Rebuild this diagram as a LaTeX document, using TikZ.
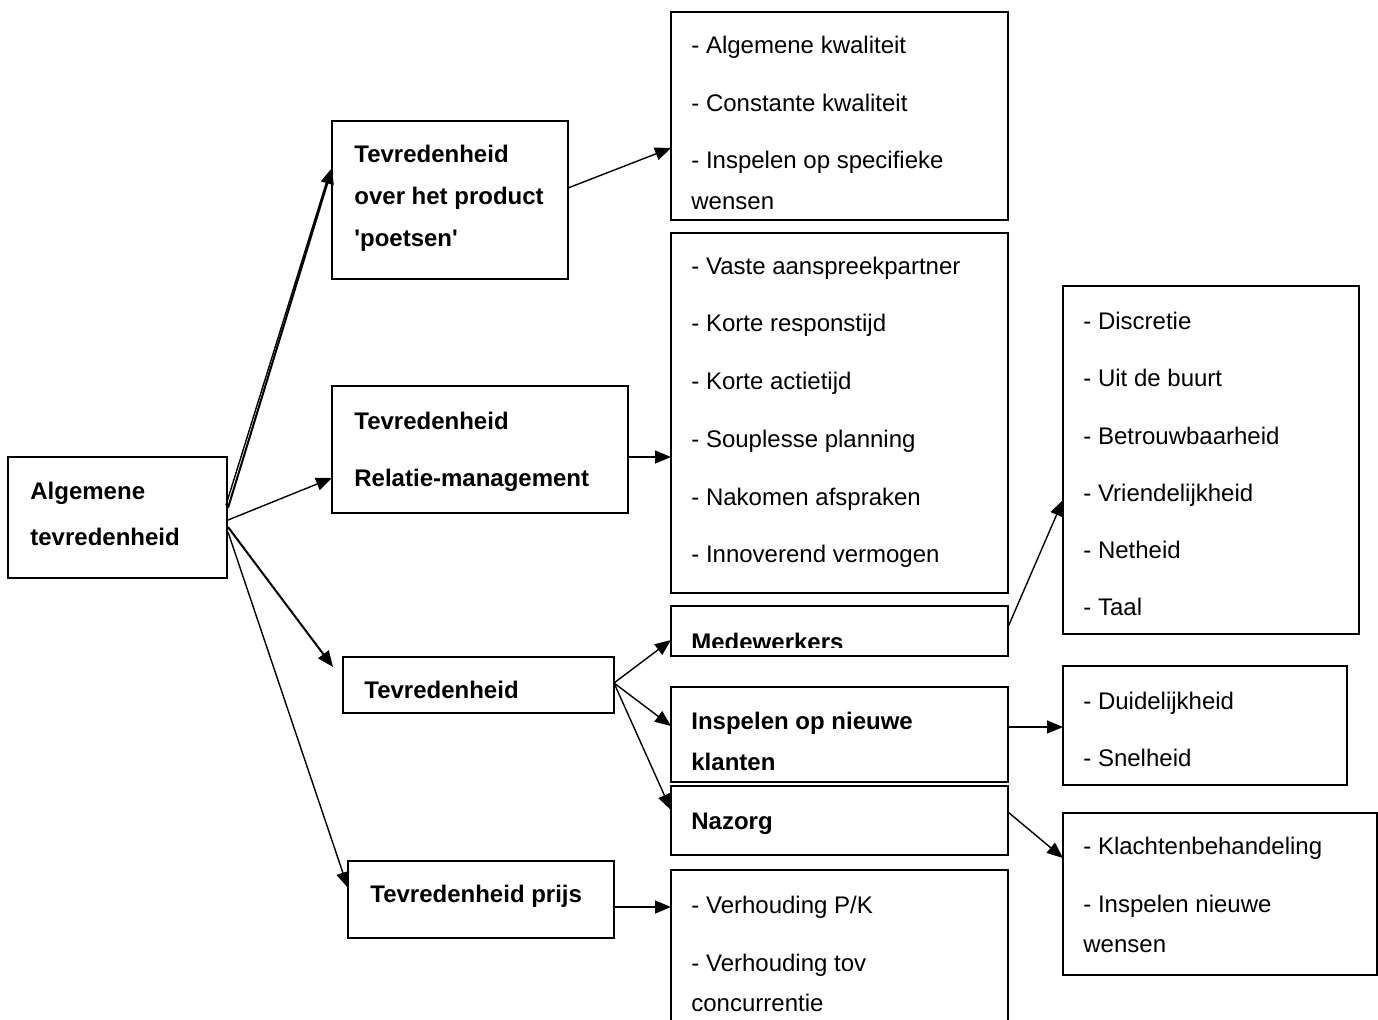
\documentclass[tikz,border=0pt]{standalone}
\usepackage{fontspec}
\setmainfont{Liberation Sans}[Ligatures=TeXOff]
\usetikzlibrary{arrows.meta}
\begin{document}
\begin{tikzpicture}[x=0.5pt,y=-0.5pt,
  box/.style={draw,line width=1pt},
  txt/.style={anchor=base west,inner sep=0pt,font=\fontsize{12}{14}\selectfont},
  btxt/.style={txt,font=\fontsize{12}{14}\selectfont\bfseries},
  arr/.style={line width=0.7pt,-{Triangle[length=8pt,width=6.5pt]}},
  ln/.style={line width=0.7pt}]
\useasboundingbox (0,0) rectangle (1378,1019);
% boxes
\draw[box] (8,457) rectangle (227,578);
\draw[box] (332,121) rectangle (568,279);
\draw[box] (332,386) rectangle (628,513);
\draw[box] (343,657) rectangle (614,713);
\draw[box] (348,861) rectangle (614,938);
\draw[box] (671,12) rectangle (1008,220);
\draw[box] (671,233) rectangle (1008,593);
\draw[box] (671,606) rectangle (1008,656);
\draw[box] (671,687) rectangle (1008,782);
\draw[box] (671,786) rectangle (1008,855);
\draw[box] (671,1025) -- (671,870) -- (1008,870) -- (1008,1025);
\draw[box] (1063,286) rectangle (1359,634);
\draw[box] (1063,666) rectangle (1347,785);
\draw[box] (1063,813) rectangle (1377,975);
% anchors
\coordinate (a1) at (228,508);
\coordinate (a0) at (226,505);
\coordinate (p0) at (330,171);
\coordinate (a2) at (228,520);
\coordinate (a3) at (228,527);
\coordinate (a4) at (228,532);
\coordinate (p1) at (332,168);
\coordinate (r1) at (332,478);
\coordinate (t1) at (333,667);
\coordinate (z1) at (348,888);
\coordinate (po) at (568,188);
\coordinate (l1) at (671,148);
\coordinate (ro) at (628,457);
\coordinate (l2) at (671,457);
\coordinate (to) at (614,683);
\coordinate (m1) at (671,640);
\coordinate (i1) at (671,726);
\coordinate (n1) at (671,810);
\coordinate (zo) at (614,907);
\coordinate (l4) at (671,907);
\coordinate (mo) at (1008,627);
\coordinate (d1) at (1063,500);
\coordinate (io) at (1008,727);
\coordinate (d2) at (1063,727);
\coordinate (no) at (1008,812);
\coordinate (d3) at (1063,858);
% arrows
\draw[arr,line width=1pt] (a1) -- (p1);
\draw[ln] (a0) -- (p0);
\draw[arr] (a2) -- (r1);
\draw[arr,line width=1pt] (a3) -- (t1);
\draw[arr] (a4) -- (z1);
\draw[arr] (po) -- (l1);
\draw[arr] (ro) -- (l2);
\draw[arr] (to) -- (m1);
\draw[arr] (to) -- (i1);
\draw[arr] (to) -- (n1);
\draw[arr] (zo) -- (l4);
\draw[arr] (mo) -- (d1);
\draw[arr] (io) -- (d2);
\draw[arr] (no) -- (d3);
% texts
\node[btxt] (ta) at (30,499) {Algemene};
\node[btxt] (tb) at (30,545) {tevredenheid};
\node[btxt] (tp1) at (354,162) {Tevredenheid};
\node[btxt] (tp2) at (354,204) {over het product};
\node[btxt] (tp3) at (354,246) {'poetsen'};
\node[btxt] (tr1) at (354,429) {Tevredenheid};
\node[btxt] (tr2) at (354,486) {Relatie-management};
\node[btxt] (tt) at (364,698) {Tevredenheid};
\node[btxt] (tz) at (370,902) {Tevredenheid prijs};
\node[txt] (q1) at (691,53) {- Algemene kwaliteit};
\node[txt] (q2) at (691,111) {- Constante kwaliteit};
\node[txt] (q3) at (691,168) {- Inspelen op specifieke};
\node[txt] (q4) at (691,209) {wensen};
\node[txt] (s1) at (691,274) {- Vaste aanspreekpartner};
\node[txt] (s2) at (691,331) {- Korte responstijd};
\node[txt] (s3) at (691,389) {- Korte actietijd};
\node[txt] (s4) at (691,447) {- Souplesse planning};
\node[txt] (s5) at (691,505) {- Nakomen afspraken};
\node[txt] (s6) at (691,562) {- Innoverend vermogen};
\begin{scope}
\clip (671,606) rectangle (1008,647);
\node[btxt] (mw) at (691,650) {Medewerkers};
\end{scope}
\node[btxt] (ip1) at (691,729) {Inspelen op nieuwe};
\node[btxt] (ip2) at (691,770) {klanten};
\node[btxt] (nz) at (691,829) {Nazorg};
\node[txt] (v1) at (691,913) {- Verhouding P/K};
\node[txt] (v2) at (691,971) {- Verhouding tov};
\node[txt] (v3) at (691,1011) {concurrentie};
\node[txt] (e1) at (1083,329) {- Discretie};
\node[txt] (e2) at (1083,386) {- Uit de buurt};
\node[txt] (e3) at (1083,444) {- Betrouwbaarheid};
\node[txt] (e4) at (1083,501) {- Vriendelijkheid};
\node[txt] (e5) at (1083,558) {- Netheid};
\node[txt] (e6) at (1083,615) {- Taal};
\node[txt] (f1) at (1083,709) {- Duidelijkheid};
\node[txt] (f2) at (1083,766) {- Snelheid};
\node[txt] (g1) at (1083,854) {- Klachtenbehandeling};
\node[txt] (g2) at (1083,912) {- Inspelen nieuwe};
\node[txt] (g3) at (1083,952) {wensen};
\end{tikzpicture}
\end{document}
